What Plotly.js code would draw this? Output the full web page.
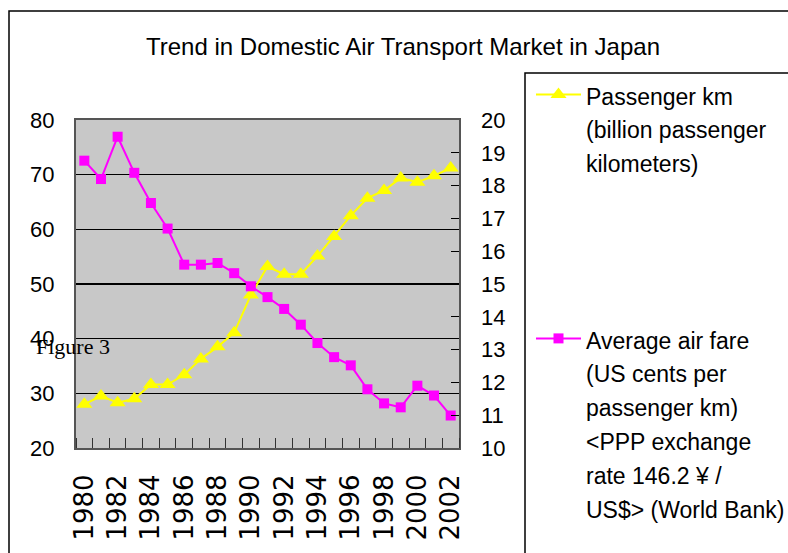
<!DOCTYPE html>
<html>
<head>
<meta charset="utf-8">
<script src="https://cdn.plot.ly/plotly-3.0.1.min.js"></script>
<style>html,body{margin:0;padding:0;background:#fff;}#chart{width:788px;height:553px;}</style>
</head>
<body>
<div id="chart"></div>
<script>
var years = [1980,1981,1982,1983,1984,1985,1986,1987,1988,1989,1990,1991,1992,1993,1994,1995,1996,1997,1998,1999,2000,2001,2002];
var passengerKm = [28.0,29.5,28.3,29.0,31.6,31.6,33.4,36.3,38.5,41.1,48.0,53.2,51.8,51.8,55.1,58.7,62.5,65.7,67.1,69.4,68.6,69.8,71.2];
var airFare = [18.76,18.2,19.49,18.39,17.47,16.69,15.59,15.59,15.64,15.33,14.93,14.60,14.24,13.76,13.20,12.77,12.52,11.79,11.36,11.24,11.90,11.60,10.99];
var xTickVals = [1980,1982,1984,1986,1988,1990,1992,1994,1996,1998,2000,2002];
var xTickText = ["1980","1982","1984","1986","1988","1990","1992","1994","1996","1998","2000","2002"];
var leftTicks = [20,30,40,50,60,70,80];
var rightTicks = [10,11,12,13,14,15,16,17,18,19,20];
var titleText = "Trend in Domestic Air Transport Market in Japan";
var name1Lines = ["Passenger km", "(billion passenger", "kilometers)"];
var name2Lines = ["Average air fare", "(US cents per", "passenger km)", "&lt;PPP exchange", "rate 146.2 ¥ /", "US$&gt; (World Bank)"];

var sans = "Liberation Sans, Arial, sans-serif";
function legendName(lines){
  return lines.map(function(s){ return '<span style="font-size:23px">' + s + '</span>'; }).join("<br>");
}

var traces = [
  {x: years, y: passengerKm, name: legendName(name1Lines), type: "scatter", mode: "lines+markers",
   line: {color: "#FFFF00", width: 2}, marker: {symbol: "triangle-up", size: 14, color: "#FFFF00"},
   yaxis: "y", legend: "legend"},
  {x: years, y: airFare, name: legendName(name2Lines), type: "scatter", mode: "lines+markers",
   line: {color: "#FF00FF", width: 2}, marker: {symbol: "square", size: 10, color: "#FF00FF"},
   yaxis: "y2", legend: "legend2"}
];

var L = 76, R = 459, T = 120, B = 448, W = 788, H = 553;
function px(x){ return (x - L) / (R - L); }
function py(y){ return (B - y) / (B - T); }

var layout = {
  width: W, height: H,
  margin: {l: L, r: W - R, t: T, b: H - B, pad: 0},
  paper_bgcolor: "#ffffff",
  plot_bgcolor: "#C8C8C8",
  showlegend: true,
  title: {text: titleText, font: {family: sans, size: 24, color: "#000"},
          xref: "container", yref: "container", x: 403/W, y: 1 - 47/H, xanchor: "center", yanchor: "middle"},
  xaxis: {range: [1979.5, 2002.5], tickvals: xTickVals, ticktext: xTickText, tickangle: -90,
          ticks: "", showgrid: false, zeroline: false,
          tickfont: {family: "DejaVu Sans, sans-serif", size: 26, color: "#000"},
          ticklabelstandoff: 14,
          showline: true, mirror: true, linecolor: "#555", linewidth: 2,
          minor: {tick0: 1979.5, dtick: 1, ticks: "inside", ticklen: 10, tickcolor: "#333", tickwidth: 1, showgrid: false}},
  yaxis: {range: [20, 80], tickvals: leftTicks, ticks: "inside", ticklen: 8, tickcolor: "#000",
          showgrid: true, gridcolor: "#000", gridwidth: 1.5, zeroline: false,
          tickfont: {family: sans, size: 22, color: "#000"}, ticklabelstandoff: 15,
          showline: true, mirror: true, linecolor: "#555", linewidth: 2},
  yaxis2: {range: [10, 20], tickvals: rightTicks, overlaying: "y", side: "right", ticks: "inside", ticklen: 8,
           tickcolor: "#000", showgrid: false, zeroline: false,
           tickfont: {family: sans, size: 22, color: "#000"}, ticklabelstandoff: 21},
  legend: {xref: "container", yref: "container", x: 531/W, y: 1 - 71/H, xanchor: "left", yanchor: "top", valign: "top",
           itemwidth: 45, bgcolor: "rgba(0,0,0,0)", borderwidth: 0,
           font: {family: sans, size: 26, color: "#000"}},
  legend2: {xref: "container", yref: "container", x: 531/W, y: 1 - 315/H, xanchor: "left", yanchor: "top", valign: "top",
           itemwidth: 45, bgcolor: "rgba(0,0,0,0)", borderwidth: 0,
           font: {family: sans, size: 26, color: "#000"}},
  shapes: [
    {type: "rect", xref: "paper", yref: "paper", x0: px(9), x1: px(800), y0: py(560), y1: py(11),
     line: {color: "#000", width: 1.5}, fillcolor: "rgba(0,0,0,0)", layer: "above"},
    {type: "rect", xref: "paper", yref: "paper", x0: px(525), x1: px(800), y0: py(560), y1: py(73),
     line: {color: "#000", width: 1.5}, fillcolor: "rgba(0,0,0,0)", layer: "above"}
  ],
  annotations: [
    {text: "Figure 3", xref: "paper", yref: "paper", x: px(34), y: py(346), xanchor: "left", yanchor: "middle",
     showarrow: false, font: {family: "Liberation Serif, Times New Roman, serif", size: 22, color: "#000"}}
  ]
};

Plotly.newPlot("chart", traces, layout, {displayModeBar: false, staticPlot: true});
</script>
</body>
</html>
